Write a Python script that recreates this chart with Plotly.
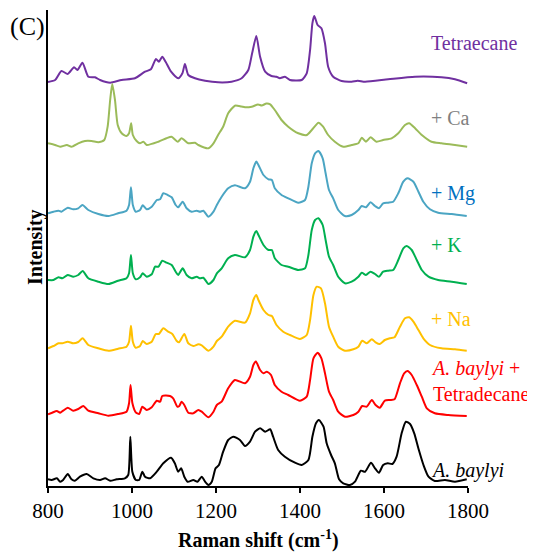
import plotly.graph_objects as go

# ---- data (Raman shift in cm-1, intensity in arbitrary units, stacked with offsets) ----
tetra_x = [800, 817, 832, 847, 862, 870, 882, 896, 912, 924, 948, 975, 1007, 1031, 1045, 1057, 1064, 1072, 1080, 1093,
           1110, 1120, 1126, 1134, 1150, 1174, 1205, 1237, 1261, 1277, 1286, 1296, 1305, 1317, 1332, 1344, 1352, 1364,
           1376, 1404, 1416, 1424, 1429.5, 1434, 1442, 1451, 1459.5, 1467, 1479, 1499, 1523, 1537, 1555, 1610, 1674,
           1737, 1769, 1798]
tetra_y = [2, 4, 13, 10, 16.7, 14, 21.3, 7.3, 6.7, 4, 1.3, 4, 5.7, 12.3, 14.7, 25, 22.3, 27.3, 22.3, 12.3,
           5.7, 10.7, 20, 9, 5.7, 3.3, 1.7, 2.3, 5.7, 14, 30.7, 48, 27.3, 12.3, 8, 7.3, 5.7, 7.3,
           4, 4, 10.7, 34, 60.7, 68, 59, 55.7, 40.7, 17.3, 7.3, 3, 2.3, 3.3, 2.3, 4.7, 7.3,
           6.7, 4.7, 0.7]

ca_x = [800, 817, 829, 845, 856, 872, 888, 904, 920, 934, 942, 948, 953, 959.5, 966, 975.5, 987, 993, 998, 1002,
        1011, 1019, 1027, 1035, 1063, 1082, 1094, 1109, 1118, 1134, 1150, 1158, 1182, 1194, 1205, 1217, 1229, 1245,
        1260, 1269, 1285, 1300, 1309, 1320, 1329, 1340, 1356, 1372, 1396, 1416, 1428, 1444, 1455, 1467, 1483, 1503,
        1523, 1539, 1547, 1557, 1568, 1582, 1598, 1618, 1634, 1650, 1660, 1674, 1690, 1713, 1737, 1769, 1798]
ca_y = [5.7, 4, 2.3, 4, 2.3, 5.7, 8, 8, 6.7, 9, 22.3, 49, 65, 49, 24, 15.7, 13, 15.7, 25.7, 14,
        8, 5.7, 7.3, 4, 7.3, 10.7, 12.3, 7.3, 10.7, 5.7, 6.3, 4, 0.7, 5.7, 14, 22.3, 35.7, 43.3,
        42.5, 41.7, 42.3, 44.5, 43.5, 45.5, 44.7, 39, 29, 22.3, 15.7, 14, 19, 26.3, 22.3, 14, 7.3, 2.3,
        4, 5.7, 11.3, 7.3, 11.7, 7.3, 9, 10.7, 15.7, 24, 25.7, 20.7, 14, 7.3, 5.7, 4, 2.3]

mg_x = [800, 813, 825, 832, 847, 860, 872, 882, 896, 920, 944, 967, 987, 993, 997.5, 1002, 1009, 1019, 1025.5, 1035,
        1047, 1059, 1067, 1074.5, 1085, 1094.5, 1104, 1110, 1120.6, 1130, 1142, 1154, 1162, 1170, 1182, 1194, 1202,
        1213.5, 1229, 1245, 1269, 1281, 1289, 1296, 1301, 1313, 1325, 1333, 1340, 1356, 1372, 1396, 1412, 1420, 1428,
        1436, 1444, 1454, 1461, 1469, 1479, 1491, 1507, 1523, 1539, 1547, 1557, 1568, 1578.6, 1588, 1598, 1610, 1622,
        1634, 1646, 1656, 1670, 1682, 1693.6, 1709.5, 1729, 1761, 1797]
mg_y = [3.7, 5.3, 6.3, 5.3, 9.3, 7.7, 8.7, 12, 7, 3, 1, 3.7, 6.3, 12, 29.7, 12, 5.3, 7, 11.7, 7.7,
        10.3, 17, 17.7, 23.7, 22, 19.7, 12, 9.7, 15.3, 8.7, 5.3, 6.3, 5.3, 6.3, 0.3, 5.3, 12,
        20.3, 28.7, 31.7, 28.7, 35.3, 48.7, 55.5, 52, 42, 37.7, 37, 28.7, 22, 18.7, 14.3, 17, 30.3, 53.7,
        63.7, 66, 58.7, 43.7, 27, 18.7, 7, 1, 2, 7, 11, 9.7, 14.7, 11, 8.7, 13.7, 14.3, 15.3,
        23.7, 35.3, 38.7, 35.3, 25.3, 15.3, 7.7, 4.3, 3, 1]

k_x = [800, 813, 825, 834, 847, 860, 872, 882.5, 896, 920, 944, 967, 987, 993, 997.5, 1002, 1009, 1019, 1025.5, 1035,
       1047, 1055, 1063, 1072, 1082.5, 1094.5, 1104, 1110, 1120.6, 1130, 1142, 1154, 1162, 1170, 1182, 1194, 1202,
       1213.5, 1229, 1245, 1269, 1281, 1289, 1296, 1301, 1313, 1325, 1333, 1340, 1356, 1372, 1396, 1412, 1420, 1428,
       1436, 1444, 1454, 1461, 1469, 1479, 1491, 1507, 1523, 1539, 1547, 1557, 1568, 1578.6, 1588, 1598, 1610, 1622,
       1634, 1646, 1654, 1666, 1678, 1690, 1706, 1729, 1761, 1797]
k_y = [5, 5, 7.7, 6.7, 10, 8.3, 10, 14, 6.7, 3.3, 1, 4.3, 6.7, 11.7, 30, 11.7, 5.7, 7.7, 11.7, 8.3,
       10.7, 18.3, 18.3, 24.3, 22.3, 20, 13.3, 10, 16.7, 10, 6.7, 8.3, 6.7, 7.3, 1, 5, 11.7,
       16.7, 26.7, 30, 27.7, 35, 48.3, 54, 50, 40, 35, 35, 26.7, 20, 18.3, 15, 16.7, 30, 55,
       65, 66.7, 60, 45, 28.3, 20, 8.3, 1.7, 3.3, 8.3, 12.3, 10, 13.3, 11, 8.3, 13.3, 14.3, 15,
       25, 36.7, 39, 35, 25, 15, 8.3, 5, 3.3, 1]

na_x = [800, 813, 825, 834, 847, 860, 872, 882.5, 896, 920, 944, 967, 987, 993, 997.5, 1002, 1009, 1019, 1025.5, 1035,
        1047, 1056.5, 1064, 1074.5, 1086, 1096, 1106, 1112, 1124.5, 1134, 1146, 1158, 1166, 1182, 1194, 1202, 1213.5,
        1229, 1245, 1269, 1281, 1289, 1296, 1301, 1313, 1325, 1333, 1344, 1360, 1376, 1400, 1416, 1424, 1432, 1440,
        1450, 1459.5, 1469, 1479, 1491, 1507, 1527, 1539, 1548, 1559, 1571, 1580, 1590, 1602, 1614, 1625, 1638, 1650,
        1660, 1670, 1682, 1693.6, 1709.5, 1737, 1769, 1797]
na_y = [2.7, 5, 7.7, 7.7, 9.3, 7.7, 9, 12.7, 6, 2.7, 0.3, 2.3, 4.3, 9.3, 25.3, 9.3, 3.3, 5, 10, 7,
        9.3, 17, 17, 22.7, 19.3, 17, 10.3, 8.7, 17, 7.7, 5, 6.7, 5.7, 0.3, 4.3, 10, 14.3,
        24.3, 30.3, 28.3, 37.7, 51, 56, 51, 41, 36, 35, 26, 19.3, 16, 12, 16, 31, 56, 64.3,
        62.7, 47.7, 24.3, 14.3, 4.3, 0.3, 1.7, 4.3, 10.3, 7.7, 11.7, 8.7, 7, 11, 12.7, 13.7, 24.3, 32.7,
        33.7, 29.3, 21, 12.7, 6, 2.7, 1.7, 0.3]

abt_x = [800, 810, 821, 829, 836, 847, 860, 872, 884, 896, 920, 944, 967, 987, 993, 996.5, 1001, 1009, 1017, 1024.6,
         1035, 1047, 1059, 1067, 1072, 1090.5, 1098, 1108, 1112.6, 1118, 1124.5, 1134, 1146, 1158, 1166, 1182, 1194,
         1202, 1213.5, 1229, 1245, 1269, 1281, 1289, 1295, 1305, 1313, 1321, 1331, 1340, 1356, 1372, 1400, 1416, 1424,
         1432, 1442, 1451, 1459.5, 1469, 1479, 1491, 1507, 1527, 1539, 1548, 1559, 1571, 1580, 1590, 1602, 1614, 1625,
         1638, 1648, 1656, 1666, 1678, 1690, 1702, 1721, 1753, 1797]
abt_y = [3.7, 5.3, 7, 5.3, 7.3, 10.3, 7.3, 9, 12, 7.3, 4.7, 2.3, 4, 6.3, 14.7, 33, 14.7, 5.7, 4, 11.3,
         8, 10.7, 17.3, 16.3, 22, 22, 19.7, 11.3, 12, 16.3, 13, 5.3, 4.7, 8, 6.3, 0.7, 6.3,
         13, 16.3, 29.7, 38, 34.7, 41.3, 53, 56.5, 48, 44.7, 46.3, 43, 33, 26.3, 23, 17.3, 21.3, 38,
         59.7, 65.3, 59.7, 44.7, 26.3, 18, 6.3, 1.3, 3, 6.3, 12, 11.3, 18, 13, 10.3, 17.3, 18, 18.7,
         34.7, 44.7, 47, 43, 33, 21.3, 9.7, 4.7, 3, 2]

ab_x = [800, 809, 821, 829, 836, 847, 856, 864, 876, 892, 908, 924, 936, 948, 963.5, 983, 991, 996, 1000.8, 1009,
        1017, 1024.6, 1031, 1043, 1059, 1074.5, 1093, 1102, 1110, 1117, 1124.5, 1132.5, 1146, 1156, 1166, 1174, 1182,
        1190, 1199, 1207, 1217, 1229, 1241, 1257, 1269, 1281, 1293, 1305, 1317, 1329, 1336, 1348, 1364, 1388, 1404,
        1420, 1429.5, 1438, 1445, 1456, 1463.5, 1474, 1483, 1493, 1503, 1519, 1531, 1545, 1555, 1569, 1578.6, 1588,
        1598, 1609, 1620, 1630, 1642, 1652, 1662, 1672, 1683, 1694, 1706, 1721, 1745, 1769, 1797]
ab_y = [6.7, 6, 7.7, 4.3, 6, 12, 6.7, 5.3, 9.3, 12, 7.7, 6, 7.7, 5.3, 6.7, 7.7, 11, 49.3, 14.3, 6,
        6, 14.3, 9.3, 7.7, 14.3, 22.7, 28.3, 22.7, 14.3, 17.7, 9.3, 4.3, 6, 4.3, 9.3, 4.3, 1,
        4.3, 17.7, 21, 34.3, 46, 49.3, 46, 40, 44.3, 54.3, 57.7, 54.3, 56.7, 49.3, 36, 29.3, 23.3, 21,
        26, 49.3, 62.7, 66, 59.3, 42.7, 31, 22.7, 6.7, 2.7, 1, 4.3, 15.3, 14.3, 23.3, 17.7, 13.3,
        21, 22.7, 22, 29.3, 52.7, 64.3, 62, 52.7, 36, 21, 9.3, 5, 6, 4.3, 6.7]

series_names = ["Tetraecane", "+ Ca", "+ Mg", "+ K", "+ Na", "A. baylyi + Tetradecane", "A. baylyi"]
series_x = [tetra_x, ca_x, mg_x, k_x, na_x, abt_x, ab_x]
series_y = [tetra_y, ca_y, mg_y, k_y, na_y, abt_y, ab_y]
offsets = [402, 337, 269, 201, 135, 68, 0]
colors = ["#7030A0", "#9BBB59", "#4BA5C3", "#00B050", "#FFC000", "#FF0000", "#000000"]

labels = ["Tetraecane", "+ Ca", "+ Mg", "+ K", "+ Na", "<i>A. baylyi</i> +<br>Tetradecane", "<i>A. baylyi</i>"]
label_colors = ["#7030A0", "#808080", "#0070C0", "#00B050", "#FFC000", "#FF0000", "#000000"]
label_y = [443, 368, 293, 241, 167, 105, 16]

x_ticks = [800, 1000, 1200, 1400, 1600, 1800]

FONT = "Liberation Serif"

fig = go.Figure()
for name, xs, ys, off, col in zip(series_names, series_x, series_y, offsets, colors):
    fig.add_trace(go.Scatter(
        x=xs, y=[v + off for v in ys], mode="lines", name=name,
        line=dict(color=col, width=2, shape="spline", smoothing=0.6),
        showlegend=False, hoverinfo="skip"))

for txt, col, yv in zip(labels, label_colors, label_y):
    fig.add_annotation(x=1707, y=yv, xref="x", yref="y", text=txt, showarrow=False,
                       xanchor="left", yanchor="middle", align="left",
                       font=dict(family=FONT, size=20, color=col))

fig.add_annotation(x=0.5, y=-0.113, xref="paper", yref="paper",
                   text="<b>Raman shift (cm<sup>-1</sup>)</b>", showarrow=False,
                   xanchor="center", yanchor="middle",
                   font=dict(family=FONT, size=20, color="black"))
fig.add_annotation(x=-0.031, y=0.502, xref="paper", yref="paper",
                   text="<b>Intensity</b>", textangle=-90, showarrow=False,
                   xanchor="center", yanchor="middle",
                   font=dict(family=FONT, size=20, color="black"))
fig.add_annotation(x=-0.05, y=0.966, xref="paper", yref="paper",
                   text="(C)", showarrow=False, xanchor="center", yanchor="middle",
                   font=dict(family=FONT, size=26, color="black"))

# the page body adds an 8 px margin, so the figure is 8 px smaller and margins compensate
fig.update_layout(
    width=527, height=551,
    margin=dict(l=40, r=67, t=2, b=73),
    paper_bgcolor="white", plot_bgcolor="white",
    font=dict(family=FONT, size=20, color="black"),
    xaxis=dict(range=[800, 1800], tickvals=x_ticks, ticktext=[str(t) for t in x_ticks],
               ticks="outside", ticklen=5, tickwidth=1.5, tickcolor="black",
               showline=True, linecolor="black", linewidth=1.5, showgrid=False, zeroline=False,
               tickfont=dict(family=FONT, size=21, color="black")),
    yaxis=dict(range=[0, 476], showticklabels=False, ticks="", showline=True,
               linecolor="black", linewidth=1.5, showgrid=False, zeroline=False),
)

fig.write_html("out.html")
